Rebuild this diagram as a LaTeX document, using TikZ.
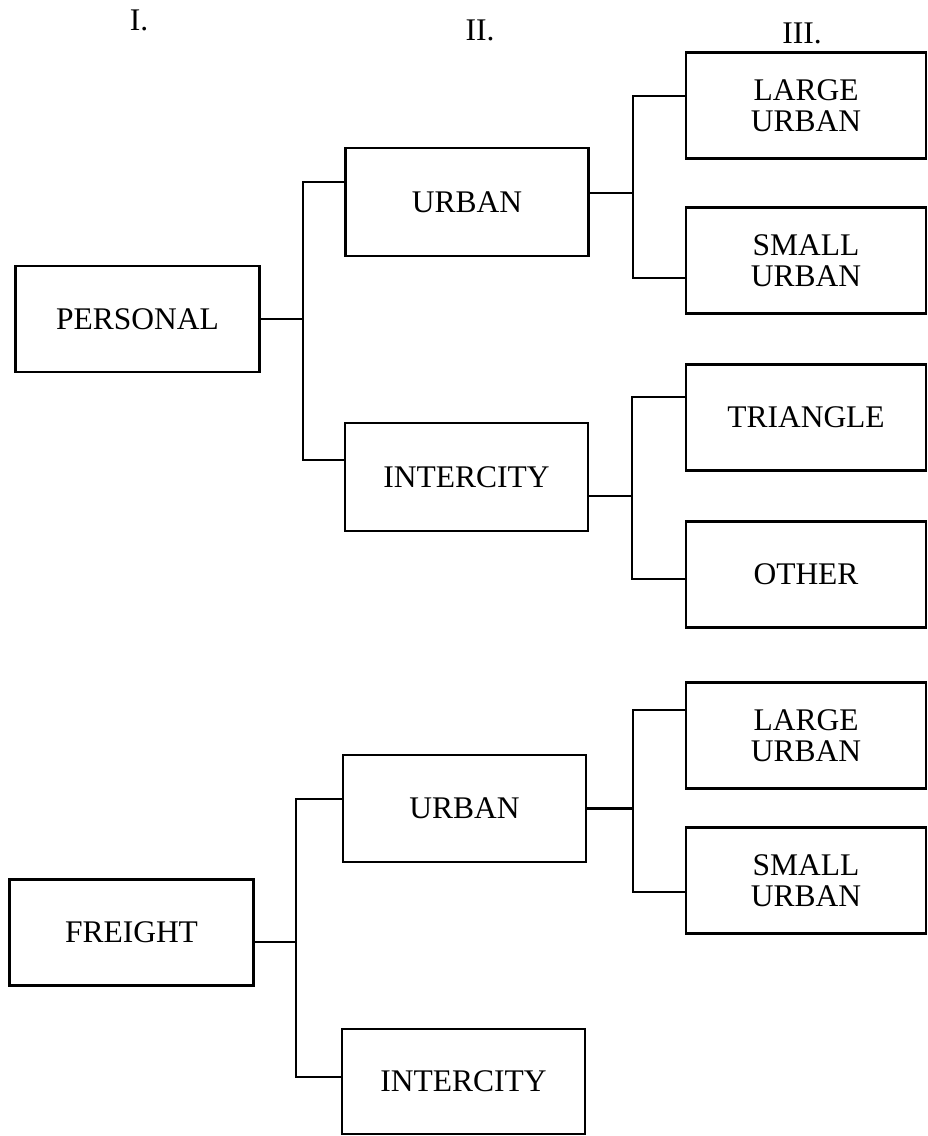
\documentclass[tikz,border=0pt]{standalone}
\usepackage{fontspec}
\setmainfont{Liberation Serif}
\usetikzlibrary{positioning,calc}

\begin{document}
\begin{tikzpicture}[x=1pt, y=-1pt, semithick]
    \tikzstyle{box}=[draw=black, line width=2.5pt, rectangle, inner sep=0pt, align=center, minimum height=106pt, font=\fontsize{31.5}{31}\selectfont]
    \tikzstyle{colA}=[box, minimum width=244pt]
    \tikzstyle{colB}=[box, minimum width=243pt]
    \tikzstyle{colC}=[box, minimum width=240pt]
    \tikzstyle{head}=[font=\fontsize{31.5}{31}\selectfont]
    \tikzstyle{link}=[line width=2.3pt]
    \useasboundingbox (0,0) rectangle (928,1136);
    % column headings
    \node[head]    (hI)    at (139,20)     {I.};
    \node[head]    (hII)   at (480,30)     {II.};
    \node[head]    (hIII)  at (802,33)     {III.};
    % level I
    \node[colA]    (personal)  at (137.5,319)   {PERSONAL};
    \node[colA]    (freight)   at (131.5,932.5) {FREIGHT};
    % level II
    \node[colB, minimum height=108pt]  (urbanP)  at (467,202)      {URBAN};
    \node[colB, minimum height=108pt]  (interP)  at (466.5,477)    {INTERCITY};
    \node[colB, minimum height=107pt]  (urbanF)  at (464.5,808.5)  {URBAN};
    \node[colB, minimum height=105pt]  (interF)  at (463.5,1081.5) {INTERCITY};
    % level III
    \node[colC]    (largeP)    at (806,105.5)  {LARGE\\URBAN};
    \node[colC]    (smallP)    at (806,260.5)  {SMALL\\URBAN};
    \node[colC]    (triangle)  at (806,417.5)  {TRIANGLE};
    \node[colC]    (other)     at (806,574.5)  {OTHER};
    \node[colC]    (largeF)    at (806,735.5)  {LARGE\\URBAN};
    \node[colC]    (smallF)    at (806,880.5)  {SMALL\\URBAN};
    % trunk points
    \coordinate (tP)  at (303,319);
    \coordinate (tUP) at (633,193);
    \coordinate (tIP) at (632,496);
    \coordinate (tF)  at (296,942);
    \coordinate (tUF) at (633,808.5);
    % connectors
    \draw[link] (personal.east) -- (tP);
    \draw[link] ([yshift=20pt]urbanP.west) -| (tP) |- ([yshift=17pt]interP.west);
    \draw[link] ([yshift=9pt]urbanP.east) -- (tUP);
    \draw[link] ([yshift=9.5pt]largeP.west) -| (tUP) |- ([yshift=-17.5pt]smallP.west);
    \draw[link] ([yshift=-19pt]interP.east) -- (tIP);
    \draw[link] ([yshift=20.5pt]triangle.west) -| (tIP) |- ([yshift=-4.5pt]other.west);
    \draw[link] ([yshift=-9.5pt]freight.east) -- (tF);
    \draw[link] ([yshift=9.5pt]urbanF.west) -| (tF) |- ([yshift=4.5pt]interF.west);
    \draw[link] (urbanF.east) -- (tUF);
    \draw[link] ([yshift=25.5pt]largeF.west) -| (tUF) |- ([yshift=-11.5pt]smallF.west);
\end{tikzpicture}
\end{document}
